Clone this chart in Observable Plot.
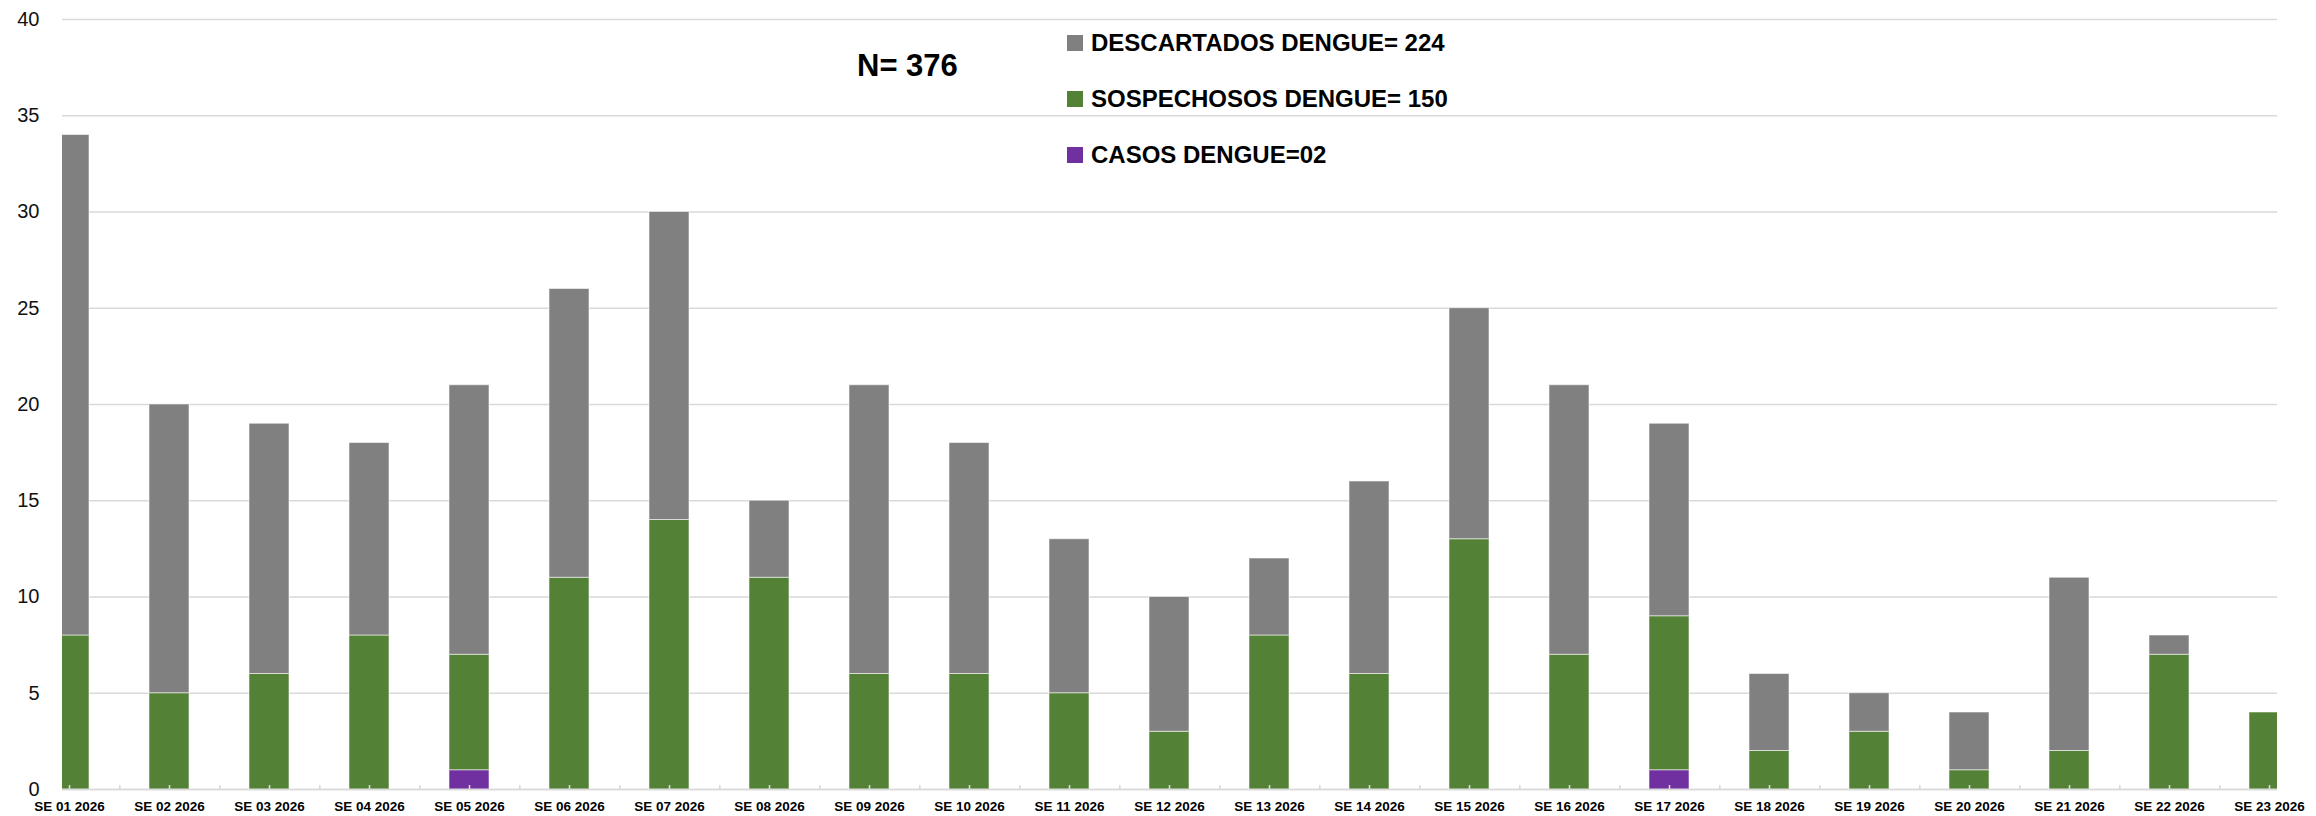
<!DOCTYPE html>
<html><head><meta charset="utf-8">
<script src="https://cdn.jsdelivr.net/npm/d3@7"></script>
<script src="https://cdn.jsdelivr.net/npm/@observablehq/plot@0.6"></script>
<style>
html,body{margin:0;padding:0;background:#fff;}
#wrap{position:relative;width:2316px;height:816px;overflow:hidden;}
.lg{position:absolute;font-family:"Liberation Sans",Arial,sans-serif;font-weight:bold;color:#000;white-space:nowrap;line-height:1;}
.sw{position:absolute;width:16px;height:16px;}
</style></head><body><div id="wrap"></div>
<script>
const weeks = ["SE 01 2026","SE 02 2026","SE 03 2026","SE 04 2026","SE 05 2026","SE 06 2026","SE 07 2026","SE 08 2026","SE 09 2026","SE 10 2026","SE 11 2026","SE 12 2026","SE 13 2026","SE 14 2026","SE 15 2026","SE 16 2026","SE 17 2026","SE 18 2026","SE 19 2026","SE 20 2026","SE 21 2026","SE 22 2026","SE 23 2026"];
const casos       = [0,0,0,0,1,0,0,0,0,0,0,0,0,0,0,0,1,0,0,0,0,0,0];
const sospechosos = [8,5,6,8,6,11,14,11,6,6,5,3,8,6,13,7,8,2,3,1,2,7,4];
const descartados = [26,15,13,10,14,15,16,4,15,12,8,7,4,10,12,14,10,4,2,3,9,1,0];
const seriesNames = ["CASOS DENGUE","SOSPECHOSOS DENGUE","DESCARTADOS DENGUE"];
const seriesColors = ["#7030A0","#538135","#808080"];
const legendLabels = ["DESCARTADOS DENGUE= 224","SOSPECHOSOS DENGUE= 150","CASOS DENGUE=02"];
const legendColors = ["#808080","#538135","#7030A0"];
const totalLabel = "N= 376";
const yTicks = [0,5,10,15,20,25,30,35,40];

const seriesValues = [casos, sospechosos, descartados];
const table = [];
weeks.forEach((w, i) => {
  seriesNames.forEach((s, k) => table.push({week: w, serie: s, value: seriesValues[k][i]}));
});

const W = 2316, H = 816;
const mL = 62, mR = 39, mT = 19, mB = 27;
const n = weeks.length, pad = 0.6;
const c0 = mL, cN = W - mR - 1;
const step = (cN - c0) / (n - 1);
const r0 = c0 - step * (1 + pad) / 2;
const r1 = r0 + step * (n + pad);
const pxPerUnit = (H - mT - mB) / 40;
const tickLen = 4 / pxPerUnit;

const chart = Plot.plot({
  width: W, height: H,
  marginLeft: mL, marginRight: mR, marginTop: mT, marginBottom: mB,
  style: {fontFamily: "'Liberation Sans', Arial, sans-serif", background: "#fff", overflow: "visible"},
  x: {type: "band", domain: weeks, range: [r0, r1], padding: pad, align: 0.5, label: null},
  y: {domain: [0, 40], label: null},
  color: {domain: seriesNames, range: seriesColors},
  marks: [
    Plot.gridY(yTicks, {stroke: "#d9d9d9", strokeOpacity: 1, strokeWidth: 1.6}),
    Plot.barY(table, Plot.stackY({order: null}, {x: "week", y: "value", z: "serie", fill: "serie", stroke: "#ffffff", strokeOpacity: 0.55, strokeWidth: 1, clip: true})),
    Plot.ruleY([0], {stroke: "#d9d9d9", strokeWidth: 1.6}),
    Plot.ruleX(weeks, {x: d => d, y1: 0, y2: tickLen, stroke: "#d9d9d9", strokeWidth: 1.6}),
    Plot.ruleX(weeks.slice(0, -1), {x: d => d, y1: 0, y2: tickLen, dx: step / 2, stroke: "#d9d9d9", strokeWidth: 1.6}),
    Plot.axisY(yTicks, {tickSize: 0, tickPadding: 23, fontSize: 20, fill: "#111", label: null}),
    Plot.axisX({tickSize: 0, tickPadding: 12, fontSize: 13.5, fontWeight: "bold", fill: "#000", label: null})
  ]
});
const wrap = document.getElementById("wrap");
wrap.appendChild(chart);

const nDiv = document.createElement("div");
nDiv.className = "lg";
nDiv.style.cssText = "left:857px;top:50px;font-size:31px;";
nDiv.textContent = totalLabel;
wrap.appendChild(nDiv);

const centers = [43, 99, 155];
legendLabels.forEach((t, i) => {
  const sw = document.createElement("div");
  sw.className = "sw";
  sw.style.left = "1067px";
  sw.style.top = (centers[i] - 8) + "px";
  sw.style.background = legendColors[i];
  wrap.appendChild(sw);
  const tx = document.createElement("div");
  tx.className = "lg";
  tx.style.left = "1091px";
  tx.style.top = (centers[i] - 12) + "px";
  tx.style.fontSize = "24px";
  tx.textContent = t;
  wrap.appendChild(tx);
});
</script></body></html>
